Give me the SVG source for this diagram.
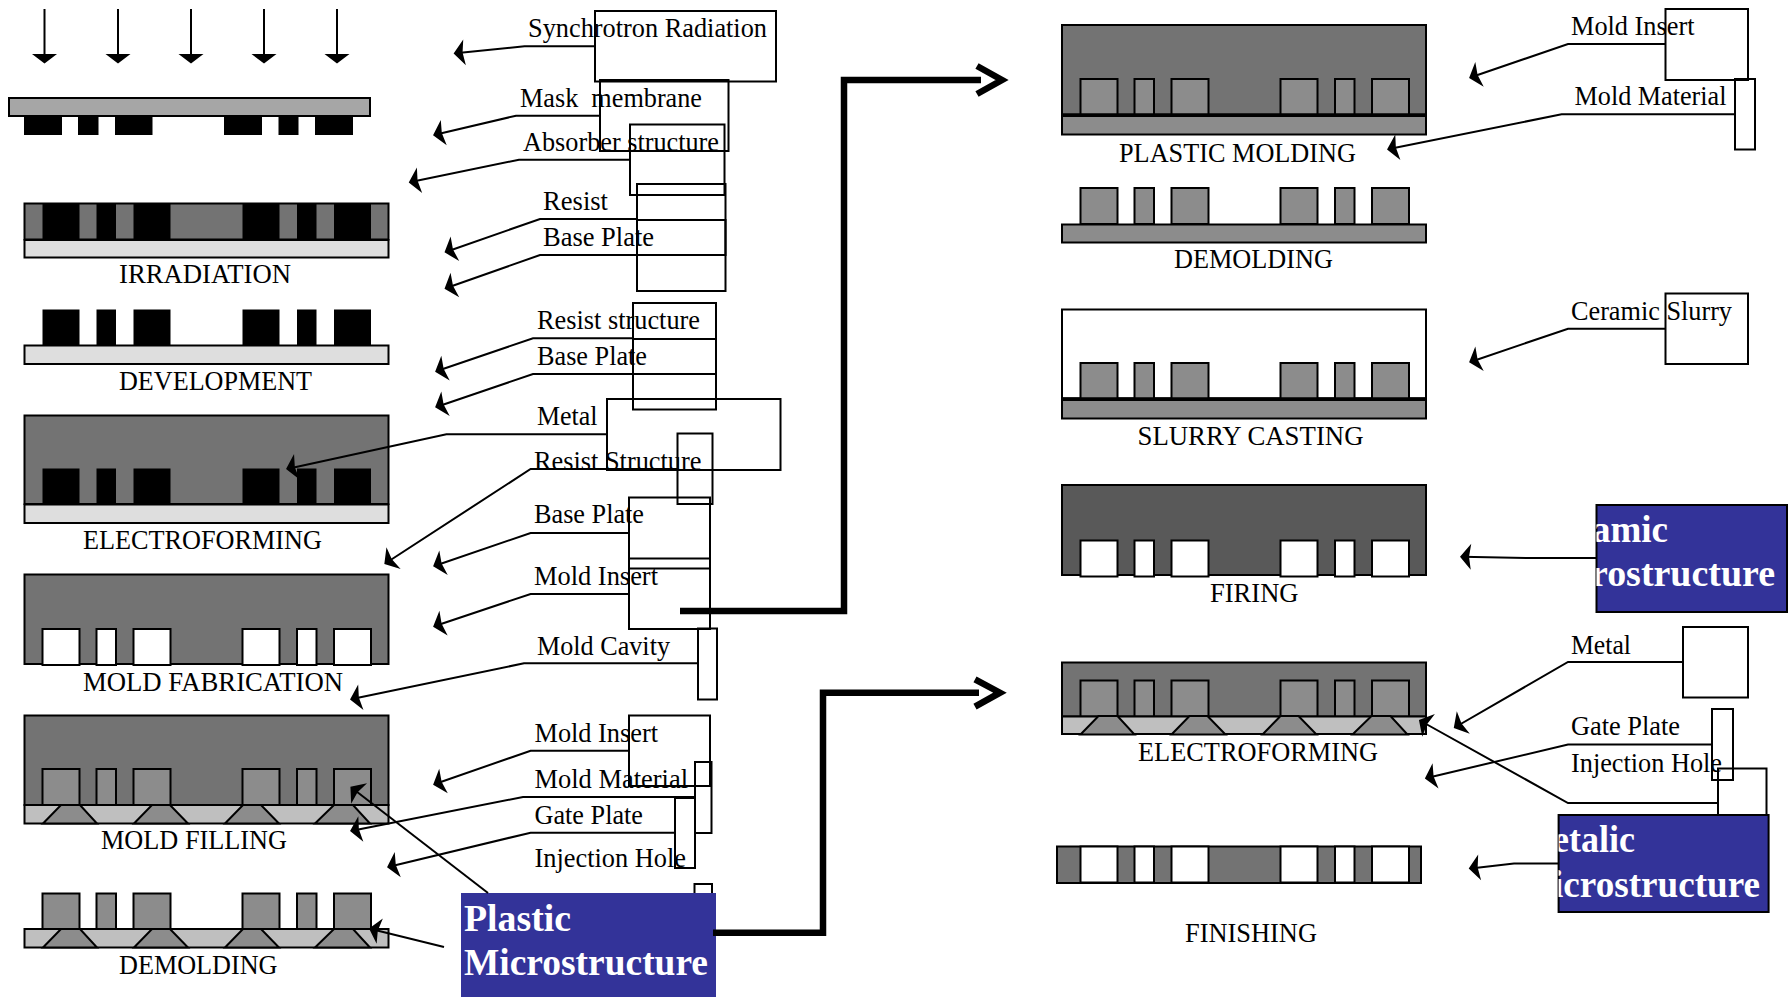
<svg xmlns="http://www.w3.org/2000/svg" width="1792" height="997" viewBox="0 0 1792 997">
<style>
text{font-family:"Liberation Serif","Times New Roman",serif;font-size:27px;fill:#000}
.w{font-weight:bold;font-size:38px;fill:#fff}
.s{stroke:#000;stroke-width:2;stroke-linejoin:miter}
.box{fill:none;stroke:#000;stroke-width:2}
.blue{fill:#333399}
.lead{fill:none;stroke:#000;stroke-width:2;marker-end:url(#h)}
.thick{fill:none;stroke:#000;stroke-width:6.5}
.k{fill:#000}.g1{fill:#737373}.g2{fill:#8c8c8c}.g3{fill:#bfbfbf}.g4{fill:#dedede}.g5{fill:#595959}.g6{fill:#a6a6a6}.wh{fill:#fff}
</style>
<defs>
<marker id="h" markerUnits="userSpaceOnUse" viewBox="0 0 11 26" refX="9" refY="13" markerWidth="11" markerHeight="26" orient="auto" overflow="visible"><path d="M11,13L0,0L2,13L0,26Z" fill="#000"/></marker>
<g id="six"><rect x="43.500" width="37" height="36"/><rect x="97.500" width="19.500" height="36"/><rect x="134.500" width="37" height="36"/><rect x="243.500" width="37" height="36"/><rect x="298" width="19.500" height="36"/><rect x="335" width="37" height="36"/></g>
<g id="traps" class="s g2"><path d="M43,18.500L61,0H80L97,18.500Z"/><path d="M134,18.500L152,0H170L188,18.500Z"/><path d="M225,18.500L243,0H261L279,18.500Z"/><path d="M315,18.500L334,0H353L370,18.500Z"/></g>
<clipPath id="c1"><rect x="1596.500" y="504" width="191" height="108"/></clipPath>
<clipPath id="c2"><rect x="1558.600" y="815" width="211" height="97"/></clipPath>
</defs>
<rect width="1792" height="997" fill="#fff"/>

<g id="irradiation-stage">
<g class="k"><path class="s" d="M44.500,9V56M118,9V56M191,9V56M264,9V56M337,9V56"/>
<path d="M32,54H57L44.500,63.500ZM105.500,54H130.500L118,63.500ZM178.500,54H203.500L191,63.500ZM251.500,54H276.500L264,63.500ZM324.500,54H349.500L337,63.500Z"/></g>
<rect class="s g6" x="9" y="98" width="361" height="18"/>
<g class="k"><rect x="24" y="116" width="38" height="19"/><rect x="78" y="116" width="20.500" height="19"/><rect x="115" y="116" width="37.500" height="19"/><rect x="224" y="116" width="38" height="19"/><rect x="278.500" y="116" width="20" height="19"/><rect x="315" y="116" width="38" height="19"/></g>
<rect class="s g1" x="24.500" y="203.500" width="364" height="36"/>
<use href="#six" class="k" x="-1" y="203.500"/>
<rect class="s g4" x="24.500" y="240" width="364" height="17.500"/>
<text x="119" y="283" textLength="172" lengthAdjust="spacingAndGlyphs">IRRADIATION</text>
</g>

<g id="development-stage">
<use href="#six" class="k" x="-1" y="309.500"/>
<rect class="s g4" x="24.500" y="345.500" width="364" height="18.500"/>
<text x="119" y="389.500" textLength="193" lengthAdjust="spacingAndGlyphs">DEVELOPMENT</text>
</g>

<g id="electroforming-left">
<rect class="s g1" x="24.500" y="415.500" width="364" height="88.500"/>
<use href="#six" class="k" x="-1" y="468.500"/>
<rect class="s g4" x="24.500" y="504.500" width="364" height="18.500"/>
<text x="83" y="548.500" textLength="239" lengthAdjust="spacingAndGlyphs">ELECTROFORMING</text>
</g>

<g id="mold-fabrication">
<rect class="s g1" x="24.500" y="574.500" width="364" height="89.500"/>
<use href="#six" class="s wh" x="-1" y="629"/>
<text x="83" y="690.500" textLength="260" lengthAdjust="spacingAndGlyphs">MOLD FABRICATION</text>
</g>

<g id="mold-filling">
<rect class="s g1" x="24.500" y="715.500" width="364" height="89.500"/>
<use href="#six" class="s g2" x="-1" y="769"/>
<rect class="s g3" x="24.500" y="805" width="364" height="18.500"/>
<use href="#traps" y="805"/>
<text x="101" y="848.500" textLength="186" lengthAdjust="spacingAndGlyphs">MOLD FILLING</text>
</g>

<g id="demolding-left">
<use href="#six" class="s g2" x="-1" y="893.500"/>
<rect class="s g3" x="24.500" y="929" width="364" height="18.500"/>
<use href="#traps" y="929"/>
<text x="119" y="973.500" textLength="158.500" lengthAdjust="spacingAndGlyphs">DEMOLDING</text>
</g>

<g id="plastic-molding">
<rect class="s g1" x="1062" y="25" width="364" height="90"/>
<use href="#six" class="s g2" x="1037" y="79"/>
<path d="M1062,115H1426" stroke="#000" stroke-width="3.500"/>
<rect class="s g2" x="1062" y="116" width="364" height="18.500"/>
<text x="1119" y="161.500" textLength="237" lengthAdjust="spacingAndGlyphs">PLASTIC MOLDING</text>
</g>

<g id="demolding-right">
<use href="#six" class="s g2" x="1037" y="188"/>
<rect class="s g2" x="1062" y="224.500" width="364" height="18"/>
<text x="1174" y="268" textLength="159" lengthAdjust="spacingAndGlyphs">DEMOLDING</text>
</g>

<g id="slurry-casting">
<rect class="box" x="1062" y="309.500" width="364" height="89"/>
<use href="#six" class="s g2" x="1037" y="363"/>
<path d="M1062,399H1426" stroke="#000" stroke-width="3.500"/>
<rect class="s g2" x="1062" y="400" width="364" height="18.500"/>
<text x="1137.500" y="445" textLength="226" lengthAdjust="spacingAndGlyphs">SLURRY CASTING</text>
</g>

<g id="firing">
<rect class="s g5" x="1062" y="485" width="364" height="90"/>
<use href="#six" class="s wh" x="1037" y="540.500"/>
<text x="1210" y="601.500" textLength="88.500" lengthAdjust="spacingAndGlyphs">FIRING</text>
</g>

<g id="electroforming-right">
<rect class="s g1" x="1062" y="662.500" width="364" height="54"/>
<use href="#six" class="s g2" x="1037" y="680.500"/>
<rect class="s g3" x="1062" y="716.500" width="364" height="17.500"/>
<use href="#traps" x="1037.500" y="716"/>
<text x="1138" y="760.500" textLength="240" lengthAdjust="spacingAndGlyphs">ELECTROFORMING</text>
</g>

<g id="finishing">
<rect class="s g1" x="1057" y="846.500" width="364" height="36.500"/>
<use href="#six" class="s wh" x="1037" y="846.500"/>
<text x="1185" y="941.500" textLength="132" lengthAdjust="spacingAndGlyphs">FINISHING</text>
</g>

<g id="labels-left">
<g id="l1"><rect class="box" x="595" y="11" width="181" height="70.500"/><text x="528" y="37" textLength="239" lengthAdjust="spacingAndGlyphs">Synchrotron Radiation</text></g>
<g id="l2"><rect class="box" x="600" y="80" width="128.500" height="71"/><text x="520" y="106.500" textLength="182" lengthAdjust="spacingAndGlyphs" xml:space="preserve">Mask  membrane</text></g>
<g id="l3"><rect class="box" x="630" y="124.500" width="94.500" height="70.500"/><text x="523" y="150.500" textLength="196" lengthAdjust="spacingAndGlyphs">Absorber structure</text></g>
<g id="l4"><rect class="box" x="637" y="184" width="88.500" height="71"/><text x="543" y="210" textLength="65" lengthAdjust="spacingAndGlyphs">Resist</text></g>
<g id="l5"><rect class="box" x="637" y="220" width="88.500" height="71"/><text x="543" y="245.500" textLength="111" lengthAdjust="spacingAndGlyphs">Base Plate</text></g>
<g id="l6"><rect class="box" x="633" y="303" width="83" height="71"/><text x="537" y="329" textLength="163" lengthAdjust="spacingAndGlyphs">Resist structure</text></g>
<g id="l7"><rect class="box" x="633" y="339" width="83" height="70.500"/><text x="537" y="365" textLength="110" lengthAdjust="spacingAndGlyphs">Base Plate</text></g>
<g id="l8"><rect class="box" x="607" y="399" width="173.500" height="71"/><text x="537" y="424.500" textLength="60.500" lengthAdjust="spacingAndGlyphs">Metal</text></g>
<g id="l9"><rect class="box" x="677.500" y="433.500" width="35" height="70.500"/><text x="534" y="469.500" textLength="167.500" lengthAdjust="spacingAndGlyphs">Resist Structure</text></g>
<g id="l10"><rect class="box" x="629" y="497.500" width="81" height="71"/><text x="534" y="523" textLength="110" lengthAdjust="spacingAndGlyphs">Base Plate</text></g>
<g id="l11"><rect class="box" x="629" y="558.500" width="81" height="70.500"/><text x="534" y="585" textLength="124" lengthAdjust="spacingAndGlyphs">Mold Insert</text></g>
<g id="l12"><rect class="box" x="698" y="628.500" width="19" height="71"/><text x="537" y="655" textLength="133" lengthAdjust="spacingAndGlyphs">Mold Cavity</text></g>
<g id="l13"><rect class="box" x="629" y="715.500" width="81" height="70.500"/><text x="534.500" y="741.500" textLength="123.500" lengthAdjust="spacingAndGlyphs">Mold Insert</text></g>
<g id="l14"><rect class="box" x="695" y="762" width="16.500" height="71"/><text x="534.500" y="787.500" textLength="153.500" lengthAdjust="spacingAndGlyphs">Mold Material</text></g>
<g id="l15"><rect class="box" x="675" y="798" width="20" height="70"/><text x="534.500" y="823.500" textLength="108.500" lengthAdjust="spacingAndGlyphs">Gate Plate</text></g>
<g id="l16"><rect class="box" x="694.500" y="884" width="17.500" height="30"/><text x="534.500" y="867" textLength="151.500" lengthAdjust="spacingAndGlyphs">Injection Hole</text></g>
</g>

<g id="labels-right">
<g id="r1"><rect class="box" x="1665.500" y="9" width="82.500" height="71"/><text x="1571" y="35" textLength="123.500" lengthAdjust="spacingAndGlyphs">Mold Insert</text></g>
<g id="r2"><rect class="box" x="1735" y="79" width="20" height="70.500"/><text x="1574.500" y="105" textLength="152" lengthAdjust="spacingAndGlyphs">Mold Material</text></g>
<g id="r3"><rect class="box" x="1665.500" y="293.500" width="82.500" height="70.500"/><text x="1571" y="320" textLength="161" lengthAdjust="spacingAndGlyphs">Ceramic Slurry</text></g>
<g id="r4"><rect class="box" x="1683" y="627" width="65" height="70.500"/><text x="1571" y="654" textLength="60" lengthAdjust="spacingAndGlyphs">Metal</text></g>
<g id="r5"><rect class="box" x="1712" y="709" width="21" height="71"/><text x="1571" y="735" textLength="109" lengthAdjust="spacingAndGlyphs">Gate Plate</text></g>
<g id="r6"><rect class="box" x="1718" y="768.500" width="48.500" height="50"/><text x="1571" y="771.500" textLength="151" lengthAdjust="spacingAndGlyphs">Injection Hole</text></g>
</g>

<g id="plastic-microstructure">
<rect class="blue" x="461" y="893" width="255" height="104"/>
<text class="w" x="464" y="931" textLength="107" lengthAdjust="spacingAndGlyphs">Plastic</text>
<text class="w" x="464" y="975" textLength="244" lengthAdjust="spacingAndGlyphs">Microstructure</text>
</g>
<g id="ceramic-microstructure">
<rect class="blue s" x="1596.500" y="505" width="190.500" height="107"/>
<g clip-path="url(#c1)"><text class="w" x="1592" y="541.500" textLength="76" lengthAdjust="spacingAndGlyphs">amic</text>
<text class="w" x="1591" y="586" textLength="184" lengthAdjust="spacingAndGlyphs">rostructure</text></g>
</g>
<g id="metallic-microstructure">
<rect class="blue s" x="1558.600" y="815" width="210" height="97"/>
<g clip-path="url(#c2)"><text class="w" x="1553" y="851.500" textLength="82" lengthAdjust="spacingAndGlyphs">etalic</text>
<text class="w" x="1553" y="897" textLength="207" lengthAdjust="spacingAndGlyphs">icrostructure</text></g>
</g>

<g id="connectors">
<path class="lead" d="M595,46.300H524.500L455.600,53.300"/>
<path class="lead" d="M600,115.700H516L435,134.700"/>
<path class="lead" d="M630,159.700H519L410.700,182"/>
<path class="lead" d="M637,219H540L446.400,251.700"/>
<path class="lead" d="M637,255H540L446.400,288"/>
<path class="lead" d="M633,338.300H533L437,371"/>
<path class="lead" d="M633,374H533L437,406.700"/>
<path class="lead" d="M607,434.300H446.400L288,468.700"/>
<path class="lead" d="M677.500,469H530.600L386,563"/>
<path class="lead" d="M629,533H530.600L435,565.700"/>
<path class="lead" d="M629,594H530.600L435,626"/>
<path class="lead" d="M698,663.300H524L352,699"/>
<path class="lead" d="M629,750.700H530.600L435,784"/>
<path class="lead" d="M695,797H523L352,830.700"/>
<path class="lead" d="M675,832.700H530.600L389,866.700"/>
<path class="lead" d="M488,893L352,788"/>
<path class="lead" d="M444,947L371,929"/>
<path class="lead" d="M1665.500,44H1568L1471,77.300"/>
<path class="lead" d="M1735,114.300H1561.600L1389,149"/>
<path class="lead" d="M1665.500,328.700H1568L1471,361.700"/>
<path class="lead" d="M1596.500,558H1530L1462,556.700"/>
<path class="lead" d="M1683,662H1568L1455.500,727"/>
<path class="lead" d="M1712,744.500H1568L1426.800,778"/>
<path class="lead" d="M1718,803H1568L1420.700,721"/>
<path class="lead" d="M1558.600,863.500H1514L1470.700,868.400"/>
<path class="thick" d="M680,611H844V80H981"/>
<path class="thick" d="M977,66L1002,80L977,94"/>
<path class="thick" d="M713,932.700H823V692.700H979"/>
<path class="thick" d="M975,679.300L1000,692.700L975,706.700"/>
</g>
</svg>
